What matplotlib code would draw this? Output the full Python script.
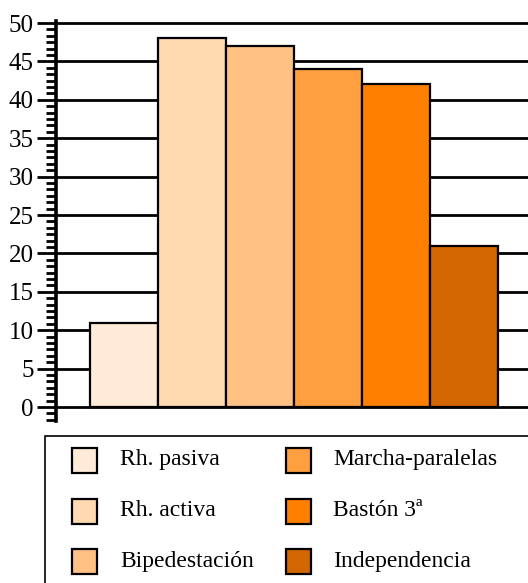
import matplotlib
matplotlib.use("Agg")
import matplotlib.pyplot as plt
from matplotlib.patches import Rectangle
from matplotlib.ticker import AutoMinorLocator

# Phase labels, values and fill colours
categories = ["Rh. pasiva", "Rh. activa", "Bipedestación",
              "Marcha-paralelas", "Bastón 3ª", "Independencia"]
values = [11, 48, 47, 44, 42, 21]
colors = ["#FFEBD7", "#FFD9B0", "#FFC184", "#FF9F40", "#FF8000", "#D26600"]
y_ticks = list(range(0, 55, 5))

W, H = 528, 583
plt.rcParams["font.family"] = ["Liberation Serif", "DejaVu Serif"]
fig = plt.figure(figsize=(W / 100, H / 100), dpi=100)

def fx(px):
    return px / W

def fy(py):
    return 1 - py / H

# plot area: y=0 at 407 px, y=50 at 23 px
ppu = (407 - 23) / 50
y_lo = -(421 - 407) / ppu
y_hi = 50 + 2 / ppu
ax = fig.add_axes([fx(56), fy(421), fx(528 + 10) - fx(56), fy(23 - 2) - fy(421)])
ax.set_ylim(y_lo, y_hi)
# bars are 68 px wide, first one starting 34 px right of the axis
xpu = 68
ax.set_xlim(-0.5 - 34 / xpu, -0.5 - 34 / xpu + (528 + 10 - 56) / xpu)

ax.bar(range(len(values)), values, width=1.0, color=colors,
       edgecolor="black", linewidth=1.6, zorder=3)

ax.set_yticks(y_ticks)
ax.set_yticklabels([str(t) for t in y_ticks], fontsize=18)
ax.yaxis.set_minor_locator(AutoMinorLocator(6))
ax.tick_params(axis="y", which="major", length=14, width=2, pad=2, color="black")
ax.tick_params(axis="y", which="minor", length=7, width=2, color="black")
ax.set_xticks([])
ax.yaxis.grid(True, which="major", color="black", linewidth=2.0, zorder=1)
ax.set_axisbelow(True)
for side in ("top", "right", "bottom"):
    ax.spines[side].set_visible(False)
ax.spines["left"].set_linewidth(2.6)
ax.spines["left"].set_zorder(4)

# legend frame, running off the right and bottom edges
fig.patches.append(Rectangle((fx(45), fy(600)), fx(600) - fx(45), fy(436) - fy(600),
                             transform=fig.transFigure, facecolor="none",
                             edgecolor="black", linewidth=1.2))
col_x = [72, 286]
text_x = [120, 333]
row_y = [460, 511, 561]
sq = 25
for i, (lab, col) in enumerate(zip(categories, colors)):
    c, r = divmod(i, 3)
    x0, yc = col_x[c], row_y[r]
    fig.patches.append(Rectangle((fx(x0), fy(yc + sq / 2)), fx(sq), sq / H,
                                 transform=fig.transFigure, facecolor=col,
                                 edgecolor="black", linewidth=1.6))
    fig.text(fx(text_x[c]), fy(yc), lab, fontsize=17, va="center", ha="left")

fig.savefig("out.png", dpi=100)
